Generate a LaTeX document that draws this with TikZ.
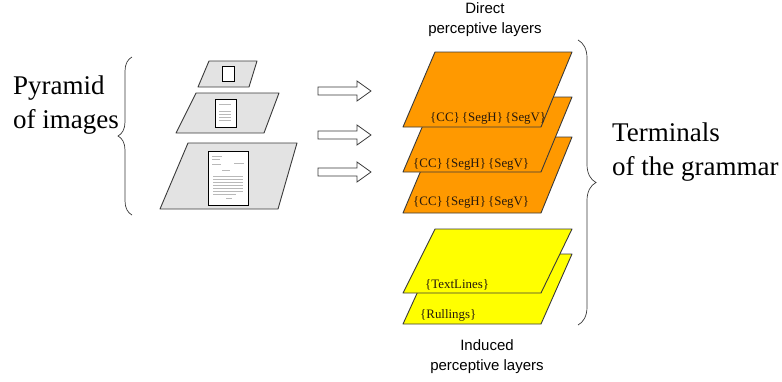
\documentclass[tikz,border=0pt]{standalone}
\usepackage{fontspec}
\setmainfont{Liberation Serif}
\newfontfamily\arialf{Liberation Sans}
\usetikzlibrary{decorations.pathreplacing}
\definecolor{planegray}{HTML}{E3E3E3}
\definecolor{layerorange}{HTML}{FF9900}
\definecolor{layeryellow}{HTML}{FFFF00}
\definecolor{edgegray}{HTML}{3A3A3A}
\tikzset{
  plane/.style={draw=edgegray, line width=0.9pt, line join=round},
  doc/.style={draw=black, fill=white, line width=0.9pt},
  docline/.style={draw=gray!55, line width=0.3pt},
  blockarrow/.style={draw=edgegray, fill=white, line width=0.8pt, line join=miter},
  layerlabel/.style={font=\fontsize{12.9}{14}\selectfont, text=black!80!brown, inner sep=0pt, anchor=base west},
  biglabel/.style={font=\fontsize{27}{34}\selectfont, align=left, inner sep=0pt, anchor=base west},
  caption/.style={font=\arialf\fontsize{15}{20}\selectfont, align=center, inner sep=0pt},
  bracestyle/.style={draw=edgegray, line width=0.7pt, decorate}
}
\begin{document}
\begin{tikzpicture}[x=1pt,y=-1pt]
\useasboundingbox (0,0) rectangle (782,381);
% ---------- pyramid of images ----------
\filldraw[plane, fill=planegray] (209,61) -- (257,61) -- (249,87) -- (198,87) -- cycle;
\filldraw[doc] (222,66) rectangle (234,81);
\filldraw[plane, fill=planegray] (196,93) -- (279,93) -- (264,133) -- (176,133) -- cycle;
\filldraw[doc] (215,99) rectangle (236,127);
\foreach \y in {104,111,114,117,120} \draw[docline] (219,\y) -- (231,\y);
\filldraw[plane, fill=planegray] (188,143) -- (297,143) -- (278,209) -- (160,209) -- cycle;
\filldraw[doc] (208,151) rectangle (248,205);
\draw[docline] (212,156) -- (222,156);
\draw[docline] (212,159) -- (220,159);
\draw[docline] (212,164) -- (221,164);
\draw[docline] (234,163) -- (244,163);
\draw[docline] (222,170) -- (230,170);
\foreach \y in {176,179,182,185,188,191} \draw[docline] (213,\y) -- (243,\y);
\draw[docline] (213,194) -- (236,194);
\draw[docline] (226,198) -- (232,198);
\node[biglabel] (pyr) at (13,128) {Pyramid\\of images};
\draw[bracestyle, decoration={brace, amplitude=14pt}] (132,215) -- (132,57);
% ---------- arrows ----------
\foreach \c in {91,135,172}{
  \filldraw[blockarrow] (318,\c-4) -- (357,\c-4) -- (357,\c-10) -- (371,\c) -- (357,\c+10) -- (357,\c+4) -- (318,\c+4) -- cycle;
}
% ---------- direct perceptive layers ----------
\filldraw[plane, fill=layerorange] (435,137) -- (572,137) -- (541,213) -- (403,213) -- cycle;
\node[layerlabel] (l3) at (413,205) {\{CC\}\,\{SegH\}\,\{SegV\}};
\filldraw[plane, fill=layerorange] (435,97) -- (572,97) -- (541,172) -- (403,172) -- cycle;
\node[layerlabel] (l2) at (413,167) {\{CC\}\,\{SegH\}\,\{SegV\}};
\filldraw[plane, fill=layerorange] (435,52) -- (572,52) -- (541,127) -- (403,127) -- cycle;
\node[layerlabel] (l1) at (430,121) {\{CC\}\,\{SegH\}\,\{SegV\}};
% ---------- induced perceptive layers ----------
\filldraw[plane, fill=layeryellow] (435,254) -- (572,254) -- (541,324) -- (403,324) -- cycle;
\node[layerlabel] (l5) at (420,318) {\{Rullings\}};
\filldraw[plane, fill=layeryellow] (435,229) -- (572,229) -- (541,293) -- (403,293) -- cycle;
\node[layerlabel] (l4) at (425,288) {\{TextLines\}};
% ---------- captions ----------
\node[caption] (direct) at (485,20) {Direct\\perceptive layers};
\node[caption] (induced) at (487,357) {Induced\\perceptive layers};
\draw[bracestyle, decoration={brace, amplitude=18pt}] (578,40) -- (578,325);
\node[biglabel] (term) at (612,175) {Terminals\\of the grammar};
\end{tikzpicture}
\end{document}
